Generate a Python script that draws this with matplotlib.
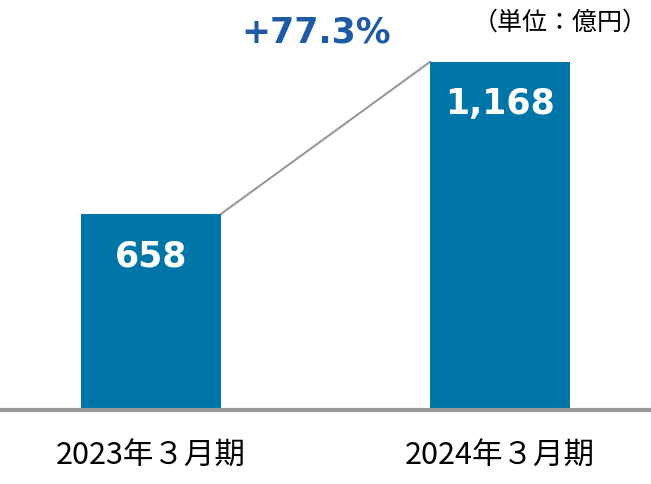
import matplotlib.pyplot as plt

plt.rcParams['font.family'] = ['DejaVu Sans']

periods = ['2023年３月期', '2024年３月期']
sales = [658, 1168]
value_labels = ['658', '1,168']
growth_label = '+77.3%'
unit_label = '（単位：億円）'

BAR_COLOR = '#0076a8'
LINE_GRAY = '#999999'
JP_FONT = ['Noto Sans CJK JP', 'DejaVu Sans']

fig = plt.figure(figsize=(6.51, 4.84), dpi=100)
# axes spans full width; zero baseline at ~74px from bottom
ax = fig.add_axes([0, 74 / 484, 1, 410 / 484])
ax.set_xlim(-0.4327, 1.4327)
ax.set_ylim(0, 410 / 0.298)
ax.axis('off')

x = list(range(len(sales)))
width = 0.401
ax.bar(x, sales, width=width, color=BAR_COLOR, zorder=2)

# connector from top-right of first bar to top-left of second
ax.plot([x[0] + width / 2, x[1] - width / 2], [sales[0], sales[1]],
        color=LINE_GRAY, lw=1.5, zorder=1)

# baseline
ax.axhline(0, color=LINE_GRAY, lw=3, zorder=3, clip_on=False)

for xi, v, lab in zip(x, sales, value_labels):
    ax.text(xi, v - 142, lab, ha='center', va='center', color='white',
            fontsize=25, fontweight='bold', zorder=4)

for xi, lab in zip(x, periods):
    ax.text(xi, -155, lab, ha='center', va='center', fontsize=22,
            family=JP_FONT, clip_on=False)

fig.text(316 / 651, 1 - 33 / 484, growth_label, ha='center', va='center',
         color='#1f5aa6', fontsize=25, fontweight='bold')
fig.text(560 / 651, 1 - 23 / 484, unit_label, ha='center', va='center',
         fontsize=18, family=JP_FONT)

fig.savefig('out.png', dpi=100)
